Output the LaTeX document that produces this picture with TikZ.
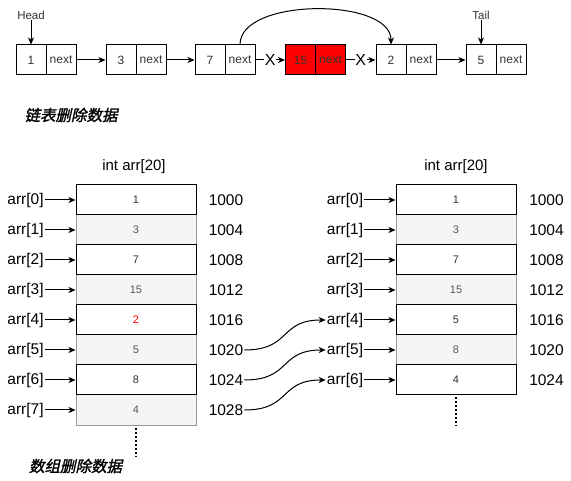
\documentclass[tikz,border=0pt]{standalone}
\usepackage{fontspec}
\setmainfont{Liberation Sans}
\newfontfamily\cjk[FakeSlant=0.22,FakeBold=1.6]{Noto Sans CJK SC}
\usetikzlibrary{arrows.meta,calc}
\definecolor{cellgray}{HTML}{F5F5F5}
\definecolor{txtdark}{HTML}{333333}
\definecolor{txtmid}{HTML}{555555}
\definecolor{graystroke}{HTML}{999999}
\definecolor{pureRed}{HTML}{FF0000}
\begin{document}
\begin{tikzpicture}[x=1pt,y=-1pt,
  every node/.style={inner sep=1pt},
  lbox/.style={draw=black, line width=1pt, minimum width=30pt, minimum height=30pt, inner sep=0pt,
    font=\fontsize{12}{14}\selectfont, text=txtdark},
  rbox/.style={lbox, fill=pureRed},
  cellw/.style={draw=black, fill=white, line width=1pt, minimum width=120pt, minimum height=30pt, inner sep=0pt,
    font=\fontsize{11}{13}\selectfont, text=txtdark},
  cellg/.style={draw=graystroke, fill=cellgray, line width=1pt, minimum width=120pt, minimum height=30pt, inner sep=0pt,
    font=\fontsize{11}{13}\selectfont, text=txtmid},
  idx/.style={font=\fontsize{15.5}{18}\selectfont, text=black},
  addr/.style={font=\fontsize{15.5}{18}\selectfont, text=black},
  ttl/.style={font=\fontsize{15}{18}\selectfont, text=black},
  small/.style={font=\fontsize{11.5}{14}\selectfont, text=txtdark},
  cn/.style={font=\cjk\fontsize{15.5}{18}\selectfont, text=black},
  arr/.style={-{Stealth[length=7pt,width=6pt,inset=2pt]}, line width=1pt},
  xmark/.style={fill=white, inner sep=0.5pt, font=\fontsize{16}{18}\selectfont, text=black},
  dotline/.style={line width=2pt, dash pattern=on 2pt off 2pt}
]
\useasboundingbox (0,0) rectangle (571,481);

% ---------- linked list ----------
\node[lbox] (n1v) at (31,60) {1};
\node[lbox] (n1n) at (61,60) {next};
\node[lbox] (n3v) at (121,60) {3};
\node[lbox] (n3n) at (151,60) {next};
\node[lbox] (n7v) at (210,60) {7};
\node[lbox] (n7n) at (240,60) {next};
\node[rbox] (n15v) at (300.5,60) {15};
\node[rbox] (n15n) at (330.5,60) {next};
\node[lbox] (n2v) at (391,60) {2};
\node[lbox] (n2n) at (421,60) {next};
\node[lbox] (n5v) at (481,60) {5};
\node[lbox] (n5n) at (511,60) {next};

\node[small] (head) at (31,15) {Head};
\node[small] (tail) at (481,15) {Tail};
\draw[arr] (head.south) -- (n1v.north);
\draw[arr] (tail.south) -- (n5v.north);

\draw[arr] (n1n.east) -- (n3v.west);
\draw[arr] (n3n.east) -- (n7v.west);
\draw[arr] (n7n.east) -- node[xmark] (x1) {X} (n15v.west);
\draw[arr] (n15n.east) -- node[xmark] (x2) {X} (n2v.west);
\draw[arr] (n2n.east) -- (n5v.west);
\draw[arr] (n7n.north) .. controls ($(n7n.north)+(0,-47)$) and ($(n2v.north)+(0,-47)$) .. (n2v.north);

\node[cn] (cap1) at (71,115) {链表删除数据};

% ---------- arrays ----------
\node[ttl] (tl) at (134,167) {int arr[20]};
\node[ttl] (tr) at (456,167) {int arr[20]};

% left array: gray rows first
\node[cellg] (L1) at (136,230) {3};
\node[cellg] (L3) at (136,290) {15};
\node[cellg] (L5) at (136,350) {5};
\node[cellg] (L7) at (136,410) {4};
\node[cellw] (L0) at (136,200) {1};
\node[cellw] (L2) at (136,260) {7};
\node[cellw, text=pureRed] (L4) at (136,320) {2};
\node[cellw] (L6) at (136,380) {8};

% right array
\node[cellg] (R1) at (456,230) {3};
\node[cellg] (R3) at (456,290) {15};
\node[cellg] (R5) at (456,350) {8};
\node[cellw] (R0) at (456,200) {1};
\node[cellw] (R2) at (456,260) {7};
\node[cellw] (R4) at (456,320) {5};
\node[cellw] (R6) at (456,380) {4};

% left labels and addresses
\foreach \i/\a in {0/1000,1/1004,2/1008,3/1012,4/1016,5/1020,6/1024,7/1028}{
  \node[idx] (la\i) at (25.5,200+30*\i) {arr[\i]};
  \draw[arr] (la\i.east) -- (L\i.west);
  \node[addr] (ad\i) at (226,200+30*\i) {\a};
}
% right labels and addresses
\foreach \i/\a in {0/1000,1/1004,2/1008,3/1012,4/1016,5/1020,6/1024}{
  \node[idx] (ra\i) at (345,200+30*\i) {arr[\i]};
  \draw[arr] (ra\i.east) -- (R\i.west);
  \node[addr] (rd\i) at (546.5,200+30*\i) {\a};
}

% curved moves
\foreach \s/\t in {5/4,6/5,7/6}{
  \draw[arr] (ad\s.east) .. controls ($(ad\s.east)+(47,0)$) and ($(ra\t.west)+(-47,0)$) .. (ra\t.west);
}

% dots
\coordinate (ld1) at (136,428);
\coordinate (ld2) at (136,457);
\draw[dotline] (ld1) -- (ld2);
\coordinate (rd1) at (456,397);
\coordinate (rd2) at (456,426);
\draw[dotline] (rd1) -- (rd2);

\node[cn] (cap2) at (75.5,466) {数组删除数据};
\end{tikzpicture}
\end{document}
